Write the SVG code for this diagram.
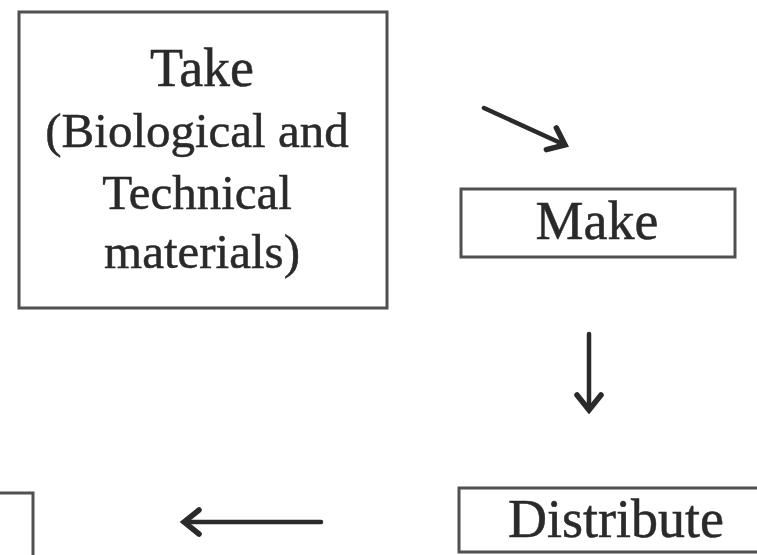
<svg xmlns="http://www.w3.org/2000/svg" width="757" height="555" viewBox="0 0 757 555">
<style>
.box{fill:#fff;stroke:#505050;stroke-width:3}
.lbl{font-family:"Liberation Serif","Times New Roman",serif;fill:#2a2a2a;stroke:#2a2a2a;stroke-width:0.5;text-anchor:middle}
.conn{fill:none;stroke:#2a2a2a;stroke-width:4.5;stroke-linecap:round}
</style>
<defs>
<marker id="head" markerUnits="userSpaceOnUse" viewBox="-20 -15 24 30" markerWidth="24" markerHeight="30" refX="0" refY="0" orient="auto">
<path d="M-15,-12 L0,0 L-15,12" fill="none" stroke="#2a2a2a" stroke-width="5.5" stroke-linecap="round" stroke-linejoin="miter"/>
</marker>
</defs>
<rect width="757" height="555" fill="#fff"/>
<g id="take">
<rect class="box" x="19" y="12" width="368" height="296"/>
<text class="lbl" x="202" y="86" font-size="54">Take</text>
<text class="lbl" x="197" y="147" font-size="49">(Biological and</text>
<text class="lbl" x="197" y="209" font-size="49">Technical</text>
<text class="lbl" x="202" y="268" font-size="49">materials)</text>
</g>
<g id="make">
<rect class="box" x="461" y="189" width="274" height="68"/>
<text class="lbl" x="597" y="239" font-size="54">Make</text>
</g>
<g id="distribute">
<rect class="box" x="459" y="488" width="320" height="64"/>
<text class="lbl" x="616" y="537" font-size="54">Distribute</text>
</g>
<g id="left-box">
<rect class="box" x="-20" y="493" width="53" height="80"/>
</g>
<g id="connectors">
<line class="conn" x1="484" y1="108" x2="565" y2="145" marker-end="url(#head)"/>
<line class="conn" x1="589" y1="334" x2="589" y2="410" marker-end="url(#head)"/>
<line class="conn" x1="321" y1="522" x2="184" y2="522" marker-end="url(#head)"/>
</g>
</svg>
